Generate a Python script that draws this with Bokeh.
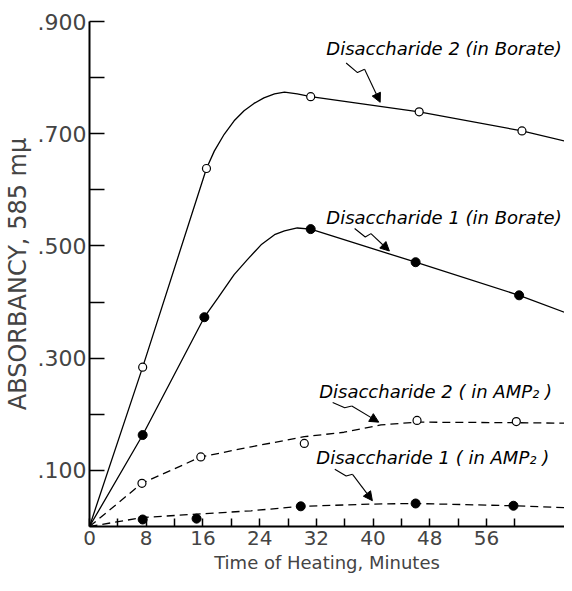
from bokeh.plotting import figure
from bokeh.models import FixedTicker, Label, Arrow, NormalHead, Range1d
from bokeh.embed import file_html
from bokeh.resources import INLINE

# ---- data (time in minutes, absorbancy) ----
d2_borate_t = [7.5, 16.5, 31.2, 46.5, 61.0]
d2_borate_a = [0.284, 0.638, 0.766, 0.739, 0.705]
d2_borate_curve_t = [0, 7.5, 16.5, 17.6, 19.0, 20.4, 21.8, 23.2, 24.6, 26.1, 27.5, 29.3, 31.2, 46.5, 61.0, 68]
d2_borate_curve_a = [0, 0.284, 0.638, 0.669, 0.699, 0.723, 0.741, 0.754, 0.764, 0.771, 0.774, 0.771, 0.766, 0.739, 0.705, 0.684]

d1_borate_t = [7.5, 16.2, 31.2, 46.0, 60.6]
d1_borate_a = [0.163, 0.373, 0.530, 0.471, 0.412]
d1_borate_curve_t = [0, 7.5, 16.2, 18.1, 20.4, 22.3, 24.2, 26.1, 27.5, 29.3, 31.2, 46.0, 60.6, 68]
d1_borate_curve_a = [0, 0.163, 0.373, 0.407, 0.449, 0.476, 0.502, 0.520, 0.527, 0.532, 0.530, 0.471, 0.412, 0.377]

d2_amp_t = [7.4, 15.7, 30.3, 46.2, 60.2]
d2_amp_a = [0.077, 0.124, 0.148, 0.189, 0.187]
d2_amp_curve_t = [0, 7.4, 15.7, 22.8, 30.3, 35.9, 41.1, 46.2, 60.2, 68]
d2_amp_curve_a = [0, 0.077, 0.124, 0.142, 0.160, 0.168, 0.181, 0.186, 0.185, 0.184]

d1_amp_t = [7.5, 15.1, 29.8, 46.0, 59.8]
d1_amp_a = [0.0125, 0.014, 0.036, 0.041, 0.037]
d1_amp_curve_t = [0, 7.5, 15.1, 22.8, 29.8, 40.0, 46.0, 59.8, 68]
d1_amp_curve_a = [0, 0.016, 0.022, 0.028, 0.036, 0.040, 0.041, 0.037, 0.033]

xtick_vals = [0, 8, 16, 24, 32, 40, 48, 56]
xtick_minor = [4, 12, 20, 28, 36, 44, 52, 60]
ytick_vals = [0.1, 0.3, 0.5, 0.7, 0.9]
ytick_labels = [".100", ".300", ".500", ".700", ".900"]
ytick_minor = [0.2, 0.4, 0.6, 0.8]

series_labels = ["Disaccharide 2 (in Borate)", "Disaccharide 1 (in Borate)",
                 "Disaccharide 2 ( in AMP\u2082 )", "Disaccharide 1 ( in AMP\u2082 )"]

# ---- annotation placement (label anchor, squiggle, arrow tip) ----
label_pos = [(33.4, 0.852), (33.4, 0.550), (32.4, 0.240), (32.0, 0.123)]
squiggles = [
    ([36.2, 37.8, 38.8], [0.826, 0.809, 0.815], (41.0, 0.756)),
    ([37.4, 38.9, 39.7], [0.531, 0.516, 0.522], (42.3, 0.491)),
    ([34.3, 36.0, 37.0], [0.221, 0.2116, 0.2146], (40.8, 0.186)),
    ([34.6, 36.2, 37.1], [0.102, 0.090, 0.093], (39.9, 0.046)),
]

FONT = "DejaVu Sans"

p = figure(width=564, height=575, output_backend="svg", toolbar_location=None,
           x_range=Range1d(0, 67.0), y_range=Range1d(0, 0.9),
           min_border_left=80, min_border_right=0, min_border_top=21, min_border_bottom=45)
p.outline_line_color = None
p.grid.visible = False
p.background_fill_color = "white"
p.border_fill_color = "white"

# curves
p.line(d2_borate_curve_t, d2_borate_curve_a, line_color="black", line_width=1.3)
p.line(d1_borate_curve_t, d1_borate_curve_a, line_color="black", line_width=1.3)
p.line(d2_amp_curve_t, d2_amp_curve_a, line_color="black", line_width=1.3, line_dash="8 5")
p.line(d1_amp_curve_t, d1_amp_curve_a, line_color="black", line_width=1.3, line_dash="8 5")

# points
p.scatter(d2_borate_t, d2_borate_a, marker="circle", size=8, fill_color="white",
          line_color="black", line_width=1.2)
p.scatter(d2_amp_t, d2_amp_a, marker="circle", size=8, fill_color="white",
          line_color="black", line_width=1.2)
p.scatter(d1_borate_t, d1_borate_a, marker="circle", size=9, fill_color="black", line_color="black")
p.scatter(d1_amp_t, d1_amp_a, marker="circle", size=9, fill_color="black", line_color="black")

# labels with squiggly arrows
for txt, (lx, ly), (sx, sy, tip) in zip(series_labels, label_pos, squiggles):
    p.add_layout(Label(x=lx, y=ly, text=txt, text_font=FONT, text_font_style="italic",
                       text_font_size="18px", text_baseline="middle", text_align="left",
                       text_color="black"))
    p.line(sx, sy, line_color="black", line_width=1.1)
    p.add_layout(Arrow(x_start=sx[-1], y_start=sy[-1], x_end=tip[0], y_end=tip[1],
                       line_color="black", line_width=1.1,
                       end=NormalHead(size=9, fill_color="black", line_color="black")))

# x axis
xa = p.xaxis[0]
xa.ticker = FixedTicker(ticks=xtick_vals, minor_ticks=xtick_minor)
xa.major_tick_in = 8
xa.major_tick_out = 0
xa.minor_tick_in = 8
xa.minor_tick_out = 0
xa.axis_line_width = 2
xa.major_tick_line_width = 1.5
xa.minor_tick_line_width = 1.5
xa.major_label_text_font = FONT
xa.major_label_text_font_size = "20px"
xa.major_label_standoff = 4
xa.axis_label = "Time of Heating, Minutes"
xa.axis_label_text_font = FONT
xa.axis_label_text_font_size = "18px"
xa.axis_label_text_font_style = "normal"
xa.axis_label_standoff = 4

# y axis
ya = p.yaxis[0]
ya.ticker = FixedTicker(ticks=ytick_vals, minor_ticks=ytick_minor)
ya.major_label_overrides = {v: s for v, s in zip(ytick_vals, ytick_labels)}
ya.major_tick_in = 15
ya.major_tick_out = 0
ya.minor_tick_in = 15
ya.minor_tick_out = 0
ya.axis_line_width = 2
ya.major_tick_line_width = 1.5
ya.minor_tick_line_width = 1.5
ya.major_label_text_font = FONT
ya.major_label_text_font_size = "22px"
ya.major_label_standoff = 3
ya.axis_label = "ABSORBANCY, 585 m\u03bc"
ya.axis_label_text_font = FONT
ya.axis_label_text_font_size = "24px"
ya.axis_label_text_font_style = "normal"
ya.axis_label_standoff = 3

open("out.html", "w").write(file_html(p, INLINE))
